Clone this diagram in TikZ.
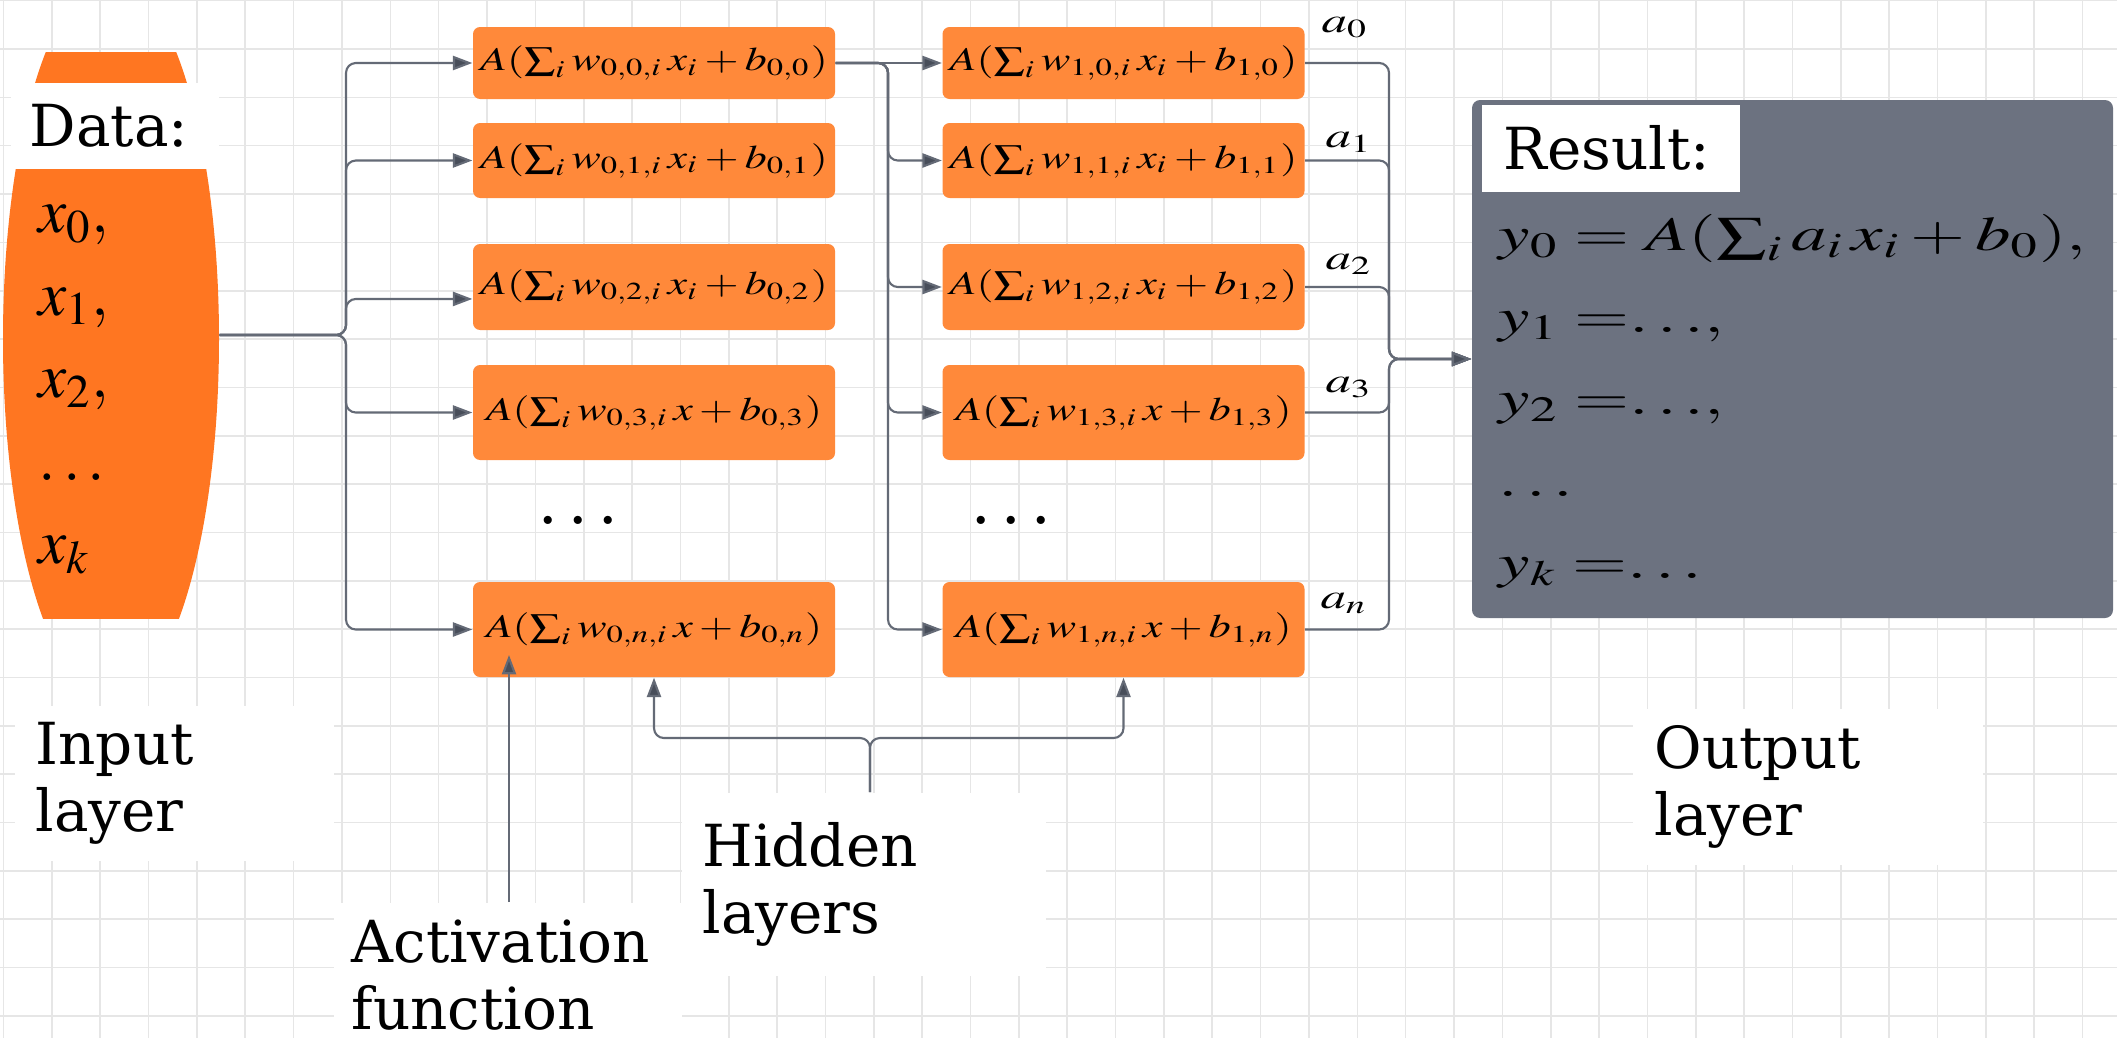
\documentclass[tikz,border=0pt]{standalone}
\usepackage{mathptmx}
\usepackage[no-math]{fontspec}
\setmainfont{DejaVu Serif}
\usepackage{tikz,graphicx}
\usetikzlibrary{arrows.meta}

\definecolor{dataorange}{RGB}{255,118,33}
\definecolor{unitorange}{RGB}{255,137,58}
\definecolor{resgray}{RGB}{108,114,128}
\definecolor{edgegray}{RGB}{100,106,118}
\definecolor{tipgray}{RGB}{72,78,90}
\definecolor{gridgray}{RGB}{230,230,230}

\newcommand{\stretchx}[2][1.33]{\scalebox{#1}[1]{#2}}

\begin{document}
\begin{tikzpicture}[
    neuron/.style={fill=unitorange, rounded corners=2pt, minimum width=3.62cm, inner sep=0pt, font=\fontsize{9.4}{11}\selectfont},
    lbl/.style={fill=white, anchor=north west, align=left, inner ysep=0pt, font=\fontsize{16.5}{19}\selectfont},
    wire/.style={draw=edgegray, line width=0.6pt, rounded corners=2.8pt, -{Triangle[length=5.5pt,width=4pt,fill=tipgray]}},
    gridline/.style={draw=gridgray, line width=0.45pt},
    aout/.style={anchor=base, font=\fontsize{10}{12}\selectfont},
    dots/.style={font=\fontsize{22}{24}\selectfont}
  ]
    \useasboundingbox (0,0) rectangle (21.17,10.38);
    \fill[white] (0,0) rectangle (21.17,10.38);
    \foreach \i in {0,...,43}
      \draw[gridline] ({0.035+0.4835*\i},0) -- ({0.035+0.4835*\i},10.38);
    \foreach \j in {0,...,21}
      \draw[gridline] (0,{10.374-0.4835*\j}) -- (21.17,{10.374-0.4835*\j});

    \begin{scope}
      \clip (0,9.86) rectangle (2.3,4.20);
      \fill[dataorange] (1.11,6.99) ellipse [x radius=1.08cm, y radius=3.6cm];
    \end{scope}
    \node[minimum width=2.16cm, minimum height=5.66cm, inner sep=0pt] (d) at (1.11,7.03) {};
    \node[lbl, minimum height=0.86cm, inner xsep=0.19cm, text width=1.70cm] (dl) at (0.10,9.56) {Data:};
    \node[anchor=base west, align=left, inner sep=0pt, font=\fontsize{18}{23.5}\selectfont] (dx) at (0.38,4.75)
      {$x_0,$\\$x_1,$\\$x_2,$\\$\ldots$\\$x_k$};

    \node[neuron, minimum height=0.72cm] (u0) at (6.54,9.75) {\stretchx{$A(\sum_i w_{0,0,i}\,x_i+b_{0,0})$}};
    \node[neuron, minimum height=0.75cm] (u1) at (6.54,8.775) {\stretchx{$A(\sum_i w_{0,1,i}\,x_i+b_{0,1})$}};
    \node[neuron, minimum height=0.86cm] (u2) at (6.54,7.51) {\stretchx{$A(\sum_i w_{0,2,i}\,x_i+b_{0,2})$}};
    \node[neuron, minimum height=0.95cm] (u3) at (6.54,6.255) {\stretchx{$A(\sum_i w_{0,3,i}\,x+b_{0,3})$}};
    \node[neuron, minimum height=0.95cm] (un) at (6.54,4.085) {\stretchx{$A(\sum_i w_{0,n,i}\,x+b_{0,n})$}};
    \node[dots] (du) at (5.78,5.18) {$\ldots$};

    \node[neuron, minimum height=0.72cm] (v0) at (11.235,9.75) {\stretchx{$A(\sum_i w_{1,0,i}\,x_i+b_{1,0})$}};
    \node[neuron, minimum height=0.75cm] (v1) at (11.235,8.775) {\stretchx{$A(\sum_i w_{1,1,i}\,x_i+b_{1,1})$}};
    \node[neuron, minimum height=0.86cm] (v2) at (11.235,7.51) {\stretchx{$A(\sum_i w_{1,2,i}\,x_i+b_{1,2})$}};
    \node[neuron, minimum height=0.95cm] (v3) at (11.235,6.255) {\stretchx{$A(\sum_i w_{1,3,i}\,x+b_{1,3})$}};
    \node[neuron, minimum height=0.95cm] (vn) at (11.235,4.085) {\stretchx{$A(\sum_i w_{1,n,i}\,x+b_{1,n})$}};
    \node[dots] (dv) at (10.11,5.18) {$\ldots$};

    \node[fill=resgray, rounded corners=2.3pt, minimum width=6.41cm, minimum height=5.18cm] (r) at (17.925,6.79) {};
    \node[lbl, minimum height=0.87cm, inner xsep=0.22cm, text width=2.14cm] (rl) at (14.81,9.34) {Result:};
    \node[anchor=base west, align=left, inner sep=0pt, font=\fontsize{13.7}{23.3}\selectfont] (ry) at (14.98,4.60)
      {\stretchx[1.47]{$y_0 = A(\sum_i a_i\,x_i + b_0),$}\\
       \stretchx[1.47]{$y_1\;{=}{\ldots},$}\\
       \stretchx[1.47]{$y_2\;{=}{\ldots},$}\\
       \stretchx[1.47]{$\ldots$}\\
       \stretchx[1.47]{$y_k\;{=}{\ldots}$}};

    \node[lbl, minimum height=1.55cm, inner xsep=0.21cm, text width=2.77cm] (il) at (0.14,3.33) {Input\\layer};
    \node[lbl, minimum height=1.83cm, inner xsep=0.21cm, text width=3.22cm] (hl) at (6.81,2.46) {Hidden\\layers};
    \node[lbl, minimum height=1.44cm, inner xsep=0.18cm, text width=3.12cm] (af) at (3.33,1.36) {Activation\\function};
    \node[lbl, minimum height=1.56cm, inner xsep=0.22cm, text width=3.06cm] (ol) at (16.32,3.30) {Output\\layer};

    \node[aout] (a0) at (13.45,10.06) {\stretchx[1.45]{$a_0$}};
    \node[aout] (a1) at (13.49,8.91) {\stretchx[1.45]{$a_1$}};
    \node[aout] (a2) at (13.49,7.69) {\stretchx[1.45]{$a_2$}};
    \node[aout] (a3) at (13.49,6.46) {\stretchx[1.45]{$a_3$}};
    \node[aout] (an) at (13.44,4.30) {\stretchx[1.45]{$a_n$}};

    \coordinate (din) at (3.46,7.03);
    \coordinate (hsp) at (8.88,9.75);
    \coordinate (m) at (13.89,6.79);
    \coordinate (hs) at (8.70,3.00);
    \coordinate (tip) at (5.09,3.83);

    \draw[wire] (d.east) -- (din) |- (u0.west);
    \draw[wire] (d.east) -- (din) |- (u1.west);
    \draw[wire] (d.east) -- (din) |- ([yshift=-3.4pt]u2.west);
    \draw[wire] (d.east) -- (din) |- (u3.west);
    \draw[wire] (d.east) -- (din) |- (un.west);

    \draw[wire] (u0.east) -- (v0.west);
    \draw[wire] (u0.east) -- (hsp) |- (v1.west);
    \draw[wire] (u0.east) -- (hsp) |- (v2.west);
    \draw[wire] (u0.east) -- (hsp) |- (v3.west);
    \draw[wire] (u0.east) -- (hsp) |- (vn.west);

    \draw[wire] (v0.east) -| (m) -- (r.west);
    \draw[wire] (v1.east) -| (m) -- (r.west);
    \draw[wire] (v2.east) -| (m) -- (r.west);
    \draw[wire] (v3.east) -| (m) -- (r.west);
    \draw[wire] (vn.east) -| (m) -- (r.west);

    \draw[wire] (hs |- hl.north) -- (hs) -| (un.south);
    \draw[wire] (hs |- hl.north) -- (hs) -| (vn.south);
    \draw[wire] (af.north -| tip) -- (tip);
  \end{tikzpicture}
\end{document}
